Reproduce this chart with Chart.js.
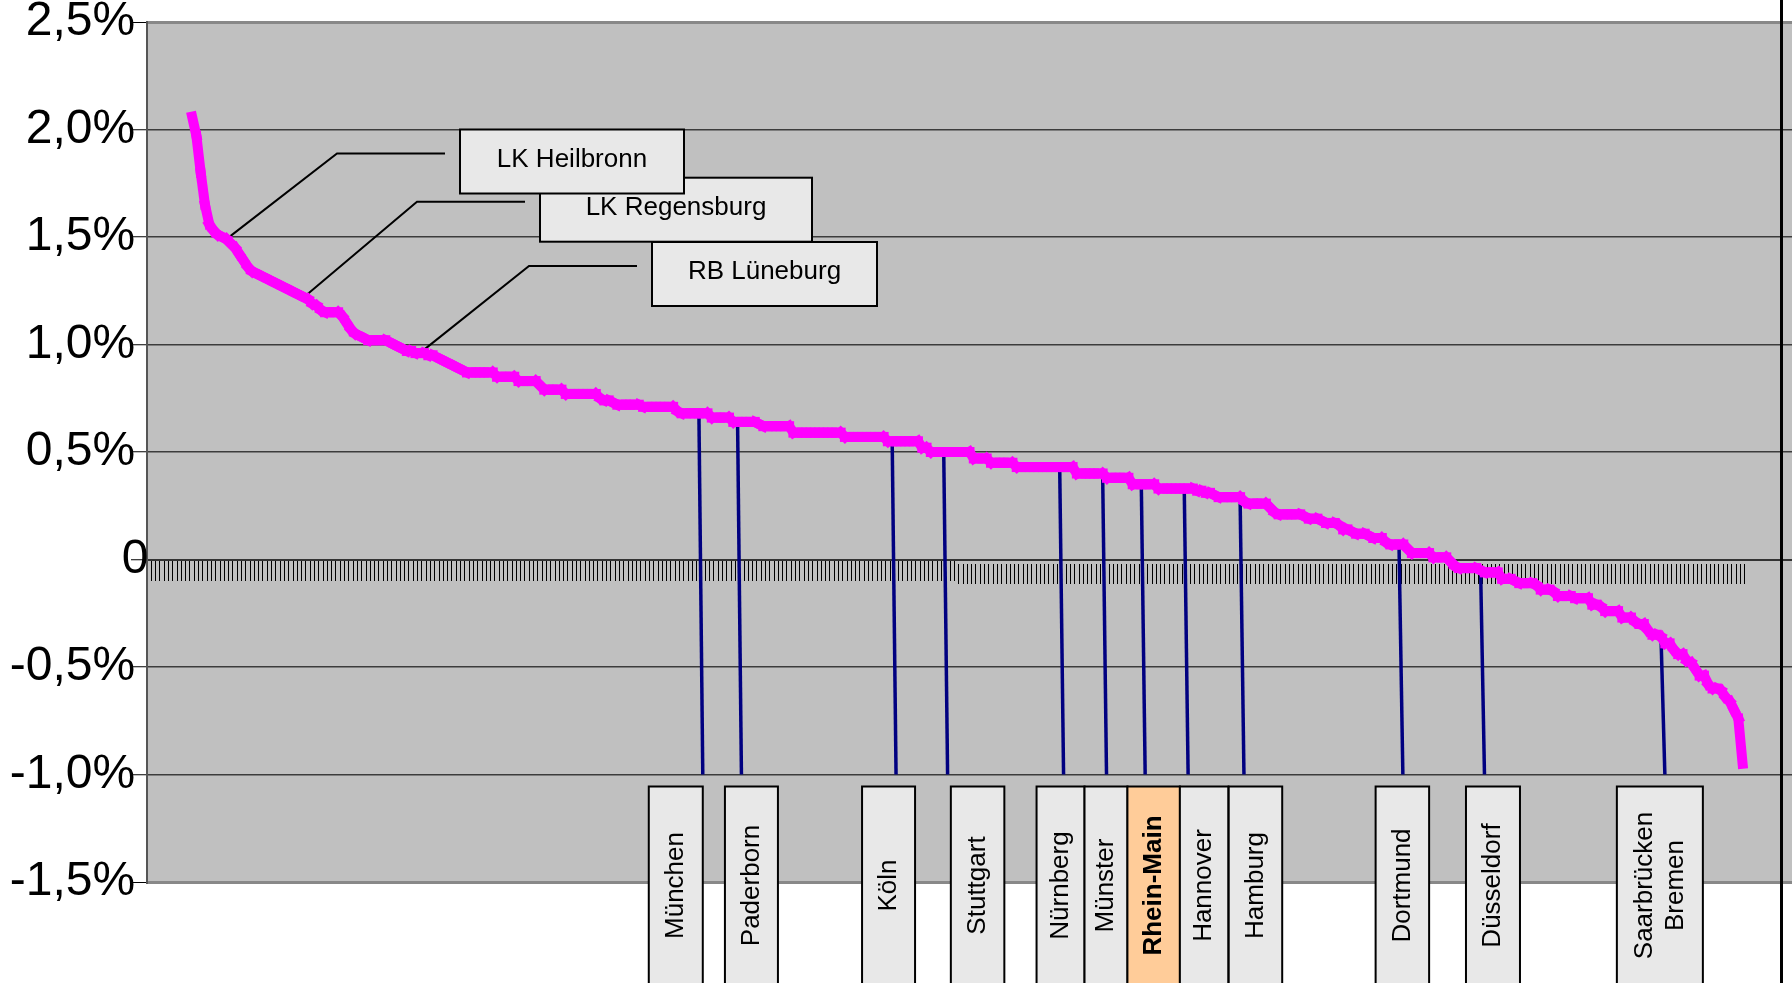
<!DOCTYPE html>
<html>
<head>
<meta charset="utf-8">
<script src="https://cdn.jsdelivr.net/npm/chart.js@4.4.1/dist/chart.umd.min.js"></script>
<style>
  html, body { margin: 0; padding: 0; background: #ffffff; }
  #wrap { width: 1792px; height: 983px; }
</style>
</head>
<body>
<div id="wrap"><canvas id="chart" width="1792" height="983"></canvas></div>
<script>
// Regions ranked by growth rate (percent), highest first.
const firstRank = 10;      // rank of the first region with a value on the curve
const regionCount = 372;   // number of ranks on the horizontal axis

const growth = [
  2.06, 1.97, 1.80, 1.65, 1.56, 1.53, 1.51, 1.50, 1.49, 1.47,
  1.45, 1.42, 1.39, 1.36, 1.34, 1.33, 1.32, 1.31, 1.30, 1.29,
  1.28, 1.27, 1.26, 1.25, 1.24, 1.23, 1.22, 1.21, 1.19, 1.18,
  1.16, 1.15, 1.15, 1.15, 1.15, 1.13, 1.10, 1.07, 1.05, 1.04,
  1.03, 1.02, 1.02, 1.02, 1.02, 1.02, 1.01, 1.00, 0.99, 0.98,
  0.97, 0.97, 0.96, 0.96, 0.96, 0.95, 0.95, 0.94, 0.93, 0.92,
  0.91, 0.90, 0.89, 0.88, 0.87, 0.87, 0.87, 0.87, 0.87, 0.87,
  0.87, 0.85, 0.85, 0.85, 0.85, 0.85, 0.83, 0.83, 0.83, 0.83,
  0.83, 0.81, 0.79, 0.79, 0.79, 0.79, 0.79, 0.77, 0.77, 0.77,
  0.77, 0.77, 0.77, 0.77, 0.77, 0.75, 0.74, 0.74, 0.73, 0.72,
  0.72, 0.72, 0.72, 0.72, 0.72, 0.71, 0.71, 0.71, 0.71, 0.71,
  0.71, 0.71, 0.71, 0.69, 0.68, 0.68, 0.68, 0.68, 0.68, 0.68,
  0.68, 0.66, 0.66, 0.66, 0.66, 0.66, 0.64, 0.64, 0.64, 0.64,
  0.64, 0.64, 0.63, 0.62, 0.62, 0.62, 0.62, 0.62, 0.62, 0.62,
  0.59, 0.59, 0.59, 0.59, 0.59, 0.59, 0.59, 0.59, 0.59, 0.59,
  0.59, 0.59, 0.57, 0.57, 0.57, 0.57, 0.57, 0.57, 0.57, 0.57,
  0.57, 0.57, 0.55, 0.55, 0.55, 0.55, 0.55, 0.55, 0.55, 0.55,
  0.52, 0.52, 0.50, 0.50, 0.50, 0.50, 0.50, 0.50, 0.50, 0.50,
  0.50, 0.50, 0.47, 0.47, 0.47, 0.47, 0.45, 0.45, 0.45, 0.45,
  0.45, 0.45, 0.43, 0.43, 0.43, 0.43, 0.43, 0.43, 0.43, 0.43,
  0.43, 0.43, 0.43, 0.43, 0.43, 0.43, 0.40, 0.40, 0.40, 0.40,
  0.40, 0.40, 0.40, 0.38, 0.38, 0.38, 0.38, 0.38, 0.38, 0.35,
  0.35, 0.35, 0.35, 0.35, 0.35, 0.33, 0.33, 0.33, 0.33, 0.33,
  0.33, 0.33, 0.33, 0.33, 0.32, 0.32, 0.31, 0.31, 0.30, 0.29,
  0.29, 0.29, 0.29, 0.29, 0.29, 0.27, 0.26, 0.26, 0.26, 0.26,
  0.26, 0.24, 0.22, 0.21, 0.21, 0.21, 0.21, 0.21, 0.21, 0.20,
  0.19, 0.19, 0.19, 0.18, 0.17, 0.17, 0.17, 0.16, 0.14, 0.14,
  0.13, 0.12, 0.12, 0.12, 0.11, 0.10, 0.10, 0.10, 0.08, 0.07,
  0.07, 0.07, 0.07, 0.05, 0.03, 0.03, 0.03, 0.03, 0.03, 0.01,
  0.01, 0.01, 0.01, -0.01, -0.03, -0.04, -0.04, -0.04, -0.04, -0.04,
  -0.05, -0.06, -0.06, -0.06, -0.06, -0.09, -0.09, -0.09, -0.10, -0.11,
  -0.11, -0.11, -0.11, -0.12, -0.14, -0.14, -0.14, -0.15, -0.17, -0.17,
  -0.17, -0.17, -0.18, -0.18, -0.18, -0.18, -0.21, -0.21, -0.22, -0.24,
  -0.24, -0.24, -0.24, -0.27, -0.27, -0.27, -0.29, -0.30, -0.30, -0.33,
  -0.35, -0.35, -0.36, -0.39, -0.39, -0.42, -0.44, -0.44, -0.47, -0.48,
  -0.51, -0.54, -0.54, -0.58, -0.60, -0.60, -0.61, -0.64, -0.66, -0.70,
  -0.74, -0.95
];

// Cities marked below the chart, with their rank on the curve.
const cityNames = ['München', 'Paderborn', 'Köln', 'Stuttgart', 'Nürnberg', 'Münster',
                   'Rhein-Main', 'Hannover', 'Hamburg', 'Dortmund', 'Düsseldorf',
                   ['Saarbrücken', 'Bremen']];
const cityRanks = [128, 137, 173, 185, 212, 222, 231, 241, 254, 291, 310, 352];
const highlightCity = 'Rhein-Main';

// Districts called out above the curve.
const calloutNames = ['LK Heilbronn', 'LK Regensburg', 'RB Lüneburg'];
const calloutRanks = [18, 36, 63];

// Value axis.
const yTickValues = [-1.5, -1.0, -0.5, 0, 0.5, 1.0, 1.5, 2.0, 2.5];
const yTickLabels = ['-1,5%', '-1,0%', '-0,5%', '0', '0,5%', '1,0%', '1,5%', '2,0%', '2,5%'];

// ---- layout and styling ----
const FONT = '"Liberation Sans", Arial, Helvetica, sans-serif';
const xMax = 383;            // rank axis runs on a little past the last region
const tickSplitRank = 188;   // rank ticks to the right of this sit slightly lower
const leaderSlant = 0.9;     // city leader lines lean right by about one rank
const leaderFloor = -1.0;    // city leader lines end on the -1 % gridline
const cityBoxShift = [-27, 10, -7.5, 30, -3, -0.5, 8.5, 16, 11.5, -0.5, 8.5, -5];
const cityBoxWidth = [54, 53, 53, 53.5, 48, 43, 52.5, 48.5, 53.5, 53.5, 54, 86];
const calloutBoxes = [
  { left: 460, top: 129.5, width: 224, height: 64 },
  { left: 540, top: 177.7, width: 272, height: 64 },
  { left: 652, top: 242,   width: 225, height: 64 }
];
const calloutDrawOrder = [1, 2, 0];

const valueAt = r => growth[r - firstRank];
const curvePoints = growth.map((v, i) => ({ x: firstRank + i + 0.5, y: v }));

const cityLeaders = cityRanks.map(r => ({
  type: 'line',
  data: [{ x: r + 0.5, y: valueAt(r) }, { x: r + 0.5 + leaderSlant, y: leaderFloor }],
  xAxisID: 'x', yAxisID: 'y',
  borderColor: '#000080', borderWidth: 3.5,
  pointRadius: 0, pointHoverRadius: 0, tension: 0, order: 2
}));

const decor = {
  id: 'decor',
  beforeDraw(chart) {
    const { ctx, chartArea: a } = chart;
    ctx.save();
    ctx.fillStyle = '#C0C0C0';
    ctx.fillRect(a.left, a.top, a.right - a.left, a.bottom - a.top);
    ctx.restore();
  },
  beforeDatasetsDraw(chart) {
    // leader lines from the curve to the district boxes
    const { ctx, scales: { x, y } } = chart;
    ctx.save();
    ctx.strokeStyle = '#000';
    ctx.lineWidth = 2;
    calloutRanks.forEach((r, i) => {
      const b = calloutBoxes[i];
      const px = x.getPixelForValue(r + 0.5);
      const py = y.getPixelForValue(valueAt(r));
      const ey = b.top + 24;
      ctx.beginPath();
      ctx.moveTo(px, py);
      ctx.lineTo(b.left - 123, ey);
      ctx.lineTo(b.left - 15, ey);
      ctx.stroke();
    });
    ctx.restore();
  },
  afterDatasetsDraw(chart) {
    const { ctx, chartArea: a, scales: { x, y } } = chart;
    ctx.save();
    // district boxes
    ctx.font = '26px ' + FONT;
    ctx.textAlign = 'center';
    ctx.textBaseline = 'middle';
    calloutDrawOrder.forEach(i => {
      const b = calloutBoxes[i];
      ctx.fillStyle = '#E8E8E8';
      ctx.fillRect(b.left, b.top, b.width, b.height);
      ctx.strokeStyle = '#000';
      ctx.lineWidth = 2;
      ctx.strokeRect(b.left, b.top, b.width, b.height);
      ctx.fillStyle = '#000';
      ctx.fillText(calloutNames[i], b.left + b.width / 2, b.top + b.height / 2 - 2);
    });

    // city boxes under the leader lines, text running upwards
    const boxTop = y.getPixelForValue(leaderFloor) + 12;
    const boxHeight = chart.height - boxTop + 10;
    cityRanks.forEach((r, i) => {
      const name = cityNames[i];
      const hl = name === highlightCity;
      const cx = x.getPixelForValue(r + 0.5 + leaderSlant) + cityBoxShift[i];
      const w = cityBoxWidth[i];
      ctx.fillStyle = hl ? '#FFCC99' : '#E8E8E8';
      ctx.fillRect(cx - w / 2, boxTop, w, boxHeight);
      ctx.strokeStyle = '#000';
      ctx.lineWidth = 2;
      ctx.strokeRect(cx - w / 2, boxTop, w, boxHeight);
      const lines = Array.isArray(name) ? name : [name];
      ctx.save();
      ctx.translate(cx, boxTop + 99);
      ctx.rotate(-Math.PI / 2);
      ctx.font = (hl ? 'bold ' : '') + '26px ' + FONT;
      ctx.fillStyle = '#000';
      lines.forEach((t, j) => ctx.fillText(t, 0, (j - (lines.length - 1) / 2) * 31));
      ctx.restore();
    });

    // heavy frame line on the right
    ctx.fillStyle = '#000';
    ctx.fillRect(a.right - 12, 0, 3, chart.height);
    ctx.restore();
  }
};

const rankTicks = (show) => ({
  display: true,
  drawOnChartArea: false,
  drawTicks: true,
  tickLength: 20,
  tickWidth: 1,
  lineWidth: 1,
  tickColor: c => (c.tick && show(c.tick.value)) ? '#000' : 'rgba(0,0,0,0)'
});

new Chart(document.getElementById('chart'), {
  type: 'line',
  data: {
    datasets: [
      {
        data: curvePoints,
        xAxisID: 'x', yAxisID: 'y',
        borderColor: '#FF00FF',
        borderWidth: 10,
        borderJoinStyle: 'miter',
        borderCapStyle: 'square',
        // every segment is stroked on its own, giving the ragged pen look
        segment: { borderWidth: c => (c.p0DataIndex % 2 ? 10 : 10.01) },
        pointRadius: 0, pointHoverRadius: 0,
        tension: 0,
        order: 0
      },
      ...cityLeaders
    ]
  },
  options: {
    responsive: false,
    animation: false,
    devicePixelRatio: 1,
    layout: { padding: { top: 22, bottom: 101, left: 0, right: 0 } },
    plugins: { legend: { display: false }, tooltip: { enabled: false } },
    scales: {
      x: {
        type: 'linear', min: 0, max: xMax,
        position: { y: 0 },
        ticks: { display: false, stepSize: 1, autoSkip: false },
        grid: rankTicks(v => v <= tickSplitRank),
        border: { display: true, color: '#333', width: 2 }
      },
      x2: {
        type: 'linear', min: 0, max: xMax,
        position: { y: -0.02 },
        ticks: { display: false, stepSize: 1, autoSkip: false },
        grid: rankTicks(v => v > tickSplitRank && v <= regionCount),
        border: { display: false }
      },
      y: {
        type: 'linear', min: -1.5, max: 2.5,
        position: 'left',
        afterBuildTicks: s => { s.ticks = yTickValues.map(v => ({ value: v })); },
        afterFit: s => { s.width = 147; s.paddingTop = 0; s.paddingBottom = 0; },
        ticks: {
          autoSkip: false,
          padding: -17.5,
          color: '#000',
          font: { family: FONT, size: 48, lineHeight: 0.9 },
          // percent labels keep a space's width further from the axis than the zero label
          callback: v => {
            const t = yTickLabels[yTickValues.indexOf(v)];
            return v === 0 ? t : t + ' ';
          }
        },
        grid: {
          color: c => (c.tick && (c.tick.value === 2.5 || c.tick.value === -1.5)) ? '#888' : '#3c3c3c',
          lineWidth: c => (c.tick && (c.tick.value === 2.5 || c.tick.value === -1.5)) ? 3 : 1.5,
          tickLength: 16,
          tickColor: '#000',
          tickWidth: 1
        },
        border: { display: true, color: '#555', width: 2 }
      }
    }
  },
  plugins: [decor]
});
</script>
</body>
</html>
